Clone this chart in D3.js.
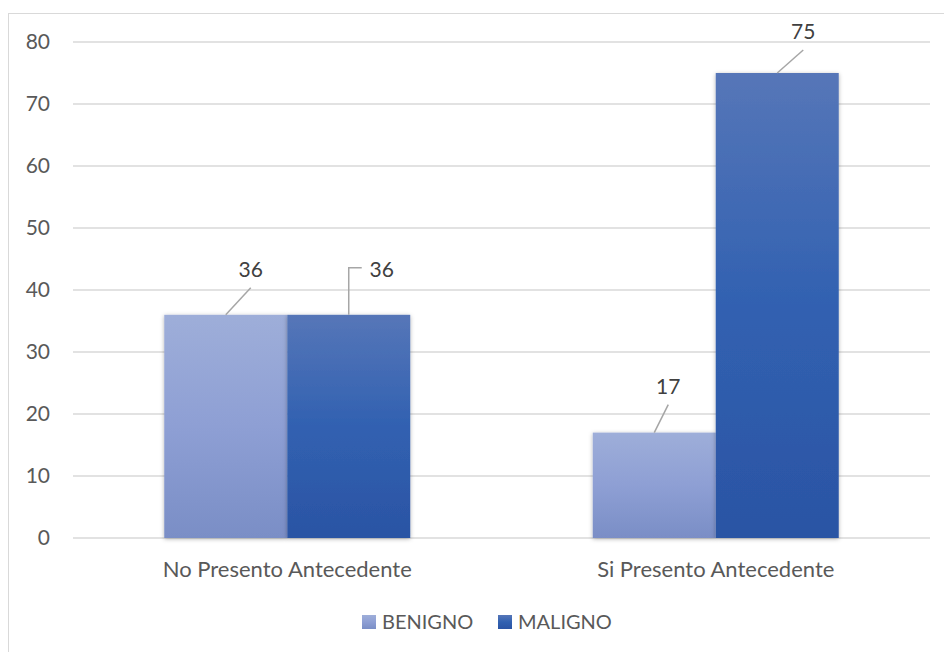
<!DOCTYPE html>
<html>
<head>
<meta charset="utf-8">
<script src="https://cdn.jsdelivr.net/npm/d3@7"></script>
<style>
  body { margin: 0; background: #fff; }
  text { font-family: Lato, "Open Sans", sans-serif; }
</style>
</head>
<body>
<div id="chart"></div>
<script>
// Data
const categories = ['No Presento Antecedente', 'Si Presento Antecedente'];
const series = ['BENIGNO', 'MALIGNO'];
const benigno = [36, 17];
const maligno = [36, 75];
const yTicks = [0, 10, 20, 30, 40, 50, 60, 70, 80];

const WIDTH = 944, HEIGHT = 652;
const PLOT = { left: 73, right: 930, top: 42, bottom: 538 };

// gradient stops per series (top, middle, bottom)
const COLORS = {
    BENIGNO: ['#9eaed9', '#8e9fd4', '#7a8ec6'],
    MALIGNO: ['#5676b8', '#3161b1', '#2b54a4']
};

// hand-placed data label offsets (Excel style, dragged labels)
const LABEL_OFFSETS = {
    'No Presento Antecedente|BENIGNO': { dx: 25, dy: -45, elbow: false },
    'No Presento Antecedente|MALIGNO': { dx: 33, dy: -47, elbow: true },
    'Si Presento Antecedente|BENIGNO': { dx: 14, dy: -46, elbow: false },
    'Si Presento Antecedente|MALIGNO': { dx: 26, dy: -41, elbow: false }
};

const rows = [];
categories.forEach((c, i) => {
    rows.push({ cat: c, key: 'BENIGNO', value: benigno[i] });
    rows.push({ cat: c, key: 'MALIGNO', value: maligno[i] });
});

const svg = d3.select('#chart').append('svg')
    .attr('width', WIDTH)
    .attr('height', HEIGHT);

const defs = svg.append('defs');
series.forEach(s => {
    const grad = defs.append('linearGradient')
        .attr('id', 'grad-' + s)
        .attr('x1', 0).attr('y1', 0).attr('x2', 0).attr('y2', 1);
    grad.append('stop').attr('offset', '0%').attr('stop-color', COLORS[s][0]);
    grad.append('stop').attr('offset', '50%').attr('stop-color', COLORS[s][1]);
    grad.append('stop').attr('offset', '100%').attr('stop-color', COLORS[s][2]);
});
const shadow = defs.append('filter').attr('id', 'shadow')
    .attr('x', '-10%').attr('y', '-10%').attr('width', '120%').attr('height', '120%');
shadow.append('feDropShadow')
    .attr('dx', 0).attr('dy', 1)
    .attr('stdDeviation', 2)
    .attr('flood-color', '#000')
    .attr('flood-opacity', 0.3);

// outer chart border
svg.append('rect')
    .attr('x', 8.5).attr('y', 13.5)
    .attr('width', 960).attr('height', 680)
    .attr('fill', 'none')
    .attr('stroke', '#d9d9d9');

// scales
const x0 = d3.scaleBand()
    .domain(categories)
    .range([PLOT.left, PLOT.right]);

const x1 = d3.scaleBand()
    .domain(series)
    .range([0, x0.bandwidth()])
    .paddingOuter(0.742);

const y = d3.scaleLinear()
    .domain([0, 80])
    .range([PLOT.bottom, PLOT.top]);

// gridlines
svg.append('g')
    .selectAll('line')
    .data(yTicks)
    .join('line')
    .attr('x1', PLOT.left).attr('x2', PLOT.right)
    .attr('y1', d => y(d)).attr('y2', d => y(d))
    .attr('stroke', '#d9d9d9')
    .attr('stroke-width', 1.5);

// y axis labels
const yAxis = d3.axisLeft(y).tickValues(yTicks).tickSize(0).tickPadding(0);
const yG = svg.append('g')
    .attr('transform', `translate(50,0)`)
    .call(yAxis);
yG.select('.domain').remove();
yG.selectAll('text')
    .attr('fill', '#595959')
    .style('font-size', '21px')
    .style('font-family', 'Lato, "Open Sans", sans-serif');

// bars
svg.append('g')
    .selectAll('rect')
    .data(rows)
    .join('rect')
    .attr('x', d => x0(d.cat) + x1(d.key))
    .attr('y', d => y(d.value))
    .attr('width', x1.bandwidth())
    .attr('height', d => y(0) - y(d.value))
    .attr('fill', d => `url(#grad-${d.key})`)
    .attr('filter', 'url(#shadow)');

// data labels with leader lines
const labels = svg.append('g');
rows.forEach(d => {
    const off = LABEL_OFFSETS[d.cat + '|' + d.key];
    const bx = x0(d.cat) + x1(d.key) + x1.bandwidth() / 2;
    const by = y(d.value);
    const lx = bx + off.dx;
    const ly = by + off.dy;
    if (off.elbow) {
        labels.append('path')
            .attr('d', `M${bx},${by} V${ly} H${bx + 13}`)
            .attr('fill', 'none')
            .attr('stroke', '#a6a6a6')
            .attr('stroke-width', 1.5);
        labels.append('text')
            .attr('x', lx)
            .attr('y', ly + 2)
            .attr('dy', '0.35em')
            .attr('text-anchor', 'middle')
            .attr('fill', '#404040')
            .style('font-size', '21px')
            .text(d.value);
    } else {
        labels.append('line')
            .attr('x1', bx).attr('y1', by)
            .attr('x2', lx).attr('y2', ly + 18)
            .attr('stroke', '#a6a6a6')
            .attr('stroke-width', 1.5);
        labels.append('text')
            .attr('x', lx)
            .attr('y', ly)
            .attr('dy', '0.35em')
            .attr('text-anchor', 'middle')
            .attr('fill', '#404040')
            .style('font-size', '21px')
            .text(d.value);
    }
});

// category axis labels
const xAxis = d3.axisBottom(x0).tickSize(0).tickPadding(0);
const xG = svg.append('g')
    .attr('transform', `translate(0,${PLOT.bottom + 23})`)
    .call(xAxis);
xG.select('.domain').remove();
xG.selectAll('text')
    .attr('fill', '#595959')
    .style('font-size', '22px')
    .style('font-family', 'Lato, "Open Sans", sans-serif');

// legend
const legend = svg.append('g').attr('transform', 'translate(362,615)');
const legendX = { BENIGNO: 0, MALIGNO: 136 };
series.forEach(s => {
    const item = legend.append('g').attr('transform', `translate(${legendX[s]},0)`);
    item.append('rect')
        .attr('width', 14).attr('height', 14)
        .attr('fill', `url(#grad-${s})`);
    item.append('text')
        .attr('x', 20)
        .attr('y', 7)
        .attr('dy', '0.35em')
        .attr('fill', '#595959')
        .style('font-size', '20px')
        .text(s);
});
</script>
</body>
</html>
